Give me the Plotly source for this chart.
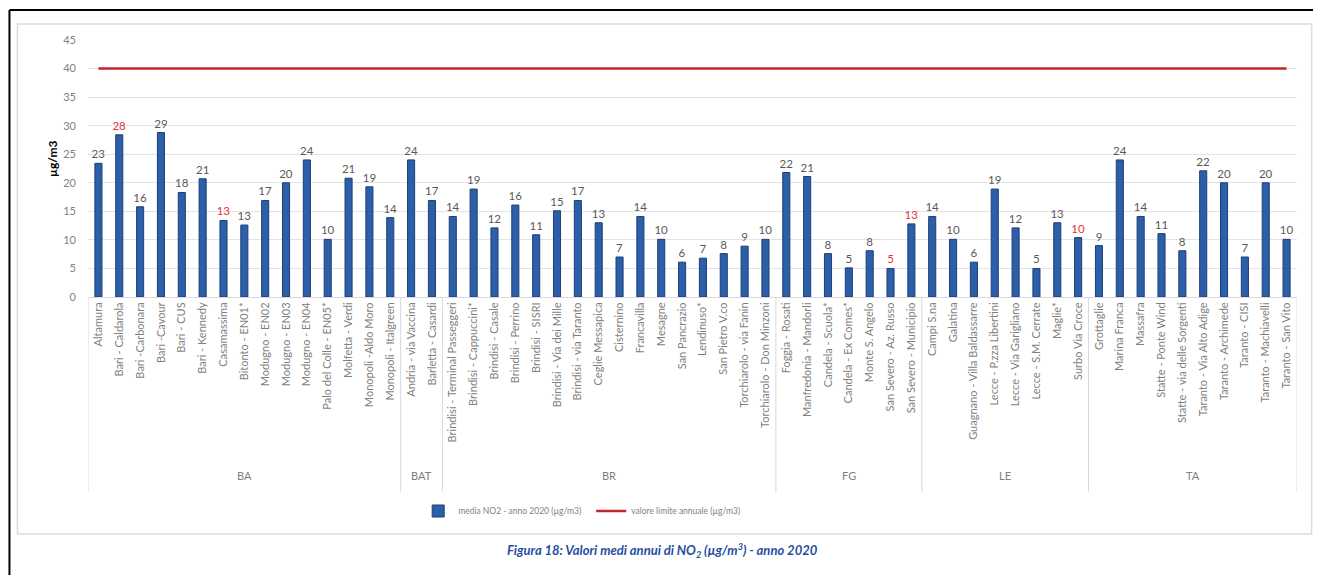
#!/usr/bin/env python3
"""
Valori medi annui di NO2 per stazione (Puglia, 2020) — grafico a barre Plotly.
"""

import plotly.graph_objects as go

# -----------------------------
# Dati
# -----------------------------

stations = [
    # BA
    "Altamura", "Bari - Caldarola", "Bari -Carbonara", "Bari -Cavour", "Bari - CUS",
    "Bari - Kennedy", "Casamassima", "Bitonto - EN01*", "Modugno - EN02", "Modugno - EN03",
    "Modugno - EN04", "Palo del Colle - EN05*", "Molfetta - Verdi", "Monopoli -Aldo Moro",
    "Monopoli - Italgreen",
    # BAT
    "Andria - via Vaccina", "Barletta - Casardi",
    # BR
    "Brindisi - Terminal Passeggeri", "Brindisi - Cappuccini*", "Brindisi - Casale",
    "Brindisi - Perrino", "Brindisi - SISRI", "Brindisi - Via dei Mille", "Brindisi - via Taranto",
    "Ceglie Messapica", "Cisternino", "Francavilla", "Mesagne", "San Pancrazio", "Lendinuso*",
    "San Pietro V.co", "Torchiarolo - via Fanin", "Torchiarolo - Don Minzoni",
    # FG
    "Foggia - Rosati", "Manfredonia - Mandorli", "Candela - Scuola*", "Candela - Ex Comes*",
    "Monte S. Angelo", "San Severo - Az. Russo", "San Severo - Municipio",
    # LE
    "Campi S.na", "Galatina", "Guagnano - Villa Baldassarre", "Lecce - P.zza Libertini",
    "Lecce - Via Garigliano", "Lecce - S.M. Cerrate", "Maglie*", "Surbo Via Croce",
    # TA
    "Grottaglie", "Marina Franca", "Massafra", "Statte - Ponte Wind", "Statte - via delle Sorgenti",
    "Taranto - Via Alto Adige", "Taranto - Archimede", "Taranto - CISI", "Taranto - Machiavelli",
    "Taranto - San Vito",
]

no2_values = [
    23.4, 28.4, 15.8, 28.8, 18.3, 20.7, 13.4, 12.6, 16.9, 20.0, 24.0, 10.1, 20.8, 19.3, 13.9,
    24.0, 16.9,
    14.1, 18.9, 12.1, 16.1, 10.9, 15.1, 16.9, 13.0, 7.0, 14.1, 10.1, 6.1, 6.8, 7.6, 8.9, 10.1,
    21.8, 21.1, 7.6, 5.1, 8.1, 5.0, 12.8,
    14.1, 10.1, 6.1, 18.9, 12.1, 5.0, 13.0, 10.4,
    9.0, 24.0, 14.1, 11.1, 8.1, 22.1, 20.0, 7.0, 20.0, 10.1,
]

# etichette in rosso (stazioni evidenziate)
red_labels = [
    "Bari - Caldarola", "Casamassima", "San Severo - Az. Russo", "San Severo - Municipio",
    "Surbo Via Croce",
]

provinces = ["BA", "BAT", "BR", "FG", "LE", "TA"]
province_counts = [15, 2, 16, 7, 8, 10]

limit_value = 40
y_ticks = [0, 5, 10, 15, 20, 25, 30, 35, 40, 45]

# -----------------------------
# Geometria (pixel dello screenshot -> paper)
# la pagina ha un margine di 8px attorno alla figura
# -----------------------------

OFF = 8
W, H = 1321 - 2 * OFF, 583 - 2 * OFF
PLOT_X0, PLOT_X1 = 87.6, 1297.4
PLOT_Y0, PLOT_Y1 = 40, 297
M_L = PLOT_X0 - OFF
M_R = W - (PLOT_X1 - OFF)
M_T = PLOT_Y0 - OFF
M_B = H - (PLOT_Y1 - OFF)
PW = PLOT_X1 - PLOT_X0
PH = PLOT_Y1 - PLOT_Y0


def px_x(x):
    return (x - PLOT_X0) / PW


def px_y(y):
    return (PLOT_Y1 - y) / PH


GRAY = "#7f7f7f"
FONT = "Lato"

idx = list(range(len(stations)))
labels = [str(int(round(v))) for v in no2_values]
label_colors = ["#e8313c" if s in red_labels else "#595959" for s in stations]

fig = go.Figure()

fig.add_trace(go.Bar(
    x=idx,
    y=no2_values,
    width=0.34,
    marker=dict(color="#2c5fa8", line=dict(color="#1c3f78", width=1)),
    text=labels,
    textposition="outside",
    constraintext="none",
    textfont=dict(color=label_colors, size=11.5, family=FONT),
    cliponaxis=False,
    name="media NO2 - anno 2020 (µg/m3)",
))

fig.add_trace(go.Scatter(
    x=idx,
    y=[limit_value] * len(idx),
    mode="lines",
    line=dict(color="#c0272d", width=2.5),
    name="valore limite annuale (µg/m3)",
))

# separatori e nomi delle province
shapes = []
annotations = []
start = 0
bounds = [-0.5]
for prov, n in zip(provinces, province_counts):
    center = start + (n - 1) / 2
    annotations.append(dict(
        x=center, xref="x", y=px_y(484), yref="paper", text=prov, showarrow=False,
        font=dict(size=11, color=GRAY, family=FONT),
    ))
    start += n
    bounds.append(start - 0.5)

for b in bounds:
    shapes.append(dict(
        type="line", xref="x", yref="paper", x0=b, x1=b, y0=0, y1=px_y(492),
        line=dict(color="#d9d9d9", width=1),
    ))

# cornice esterna (solo lati visibili) e riquadro del grafico
shapes.append(dict(
    type="line", xref="paper", yref="paper",
    x0=px_x(9), x1=px_x(1330), y0=px_y(10), y1=px_y(10),
    line=dict(color="black", width=2),
))
shapes.append(dict(
    type="line", xref="paper", yref="paper",
    x0=px_x(9), x1=px_x(9), y0=px_y(10), y1=px_y(600),
    line=dict(color="black", width=2),
))
shapes.append(dict(
    type="rect", xref="paper", yref="paper",
    x0=px_x(17), x1=px_x(1312), y0=px_y(24), y1=px_y(534),
    line=dict(color="#dcdcdc", width=1.5),
))

annotations.append(dict(
    x=px_x(42), y=px_y(158), xref="paper", yref="paper", text="<b>µg/m3</b>",
    textangle=-90, showarrow=False, font=dict(size=12, color="black", family=FONT),
))
annotations.append(dict(
    x=px_x(662), y=px_y(562), xref="paper", yref="paper",
    text="<b><i>Figura 18: Valori medi annui di NO<sub>2</sub> (µg/m<sup>3</sup>) - anno 2020</i></b>",
    showarrow=False, font=dict(size=13, color="#1f4ea0", family=FONT),
))

fig.update_layout(
    width=W,
    height=H,
    margin=dict(l=M_L, r=M_R, t=M_T, b=M_B),
    paper_bgcolor="white",
    plot_bgcolor="white",
    showlegend=True,
    legend=dict(
        orientation="h", x=px_x(418), y=px_y(511), xanchor="left", yanchor="middle",
        font=dict(size=8.5, color=GRAY, family=FONT), itemwidth=30,
        entrywidth=128, entrywidthmode="pixels",
    ),
    xaxis=dict(
        tickmode="array", tickvals=idx, ticktext=stations, tickangle=-90,
        tickfont=dict(size=11, color=GRAY, family=FONT),
        range=[-0.5, len(idx) - 0.5], showgrid=False, showline=True,
        linecolor="#d9d9d9", ticks="", zeroline=False,
    ),
    yaxis=dict(
        range=[0, 45], tickvals=y_ticks, showgrid=True, gridcolor="#e3e3e3",
        tickfont=dict(size=11, color=GRAY, family=FONT), zeroline=False,
        ticks="", ticklabelstandoff=11,
    ),
    shapes=shapes,
    annotations=annotations,
)

fig.write_html("out.html")
